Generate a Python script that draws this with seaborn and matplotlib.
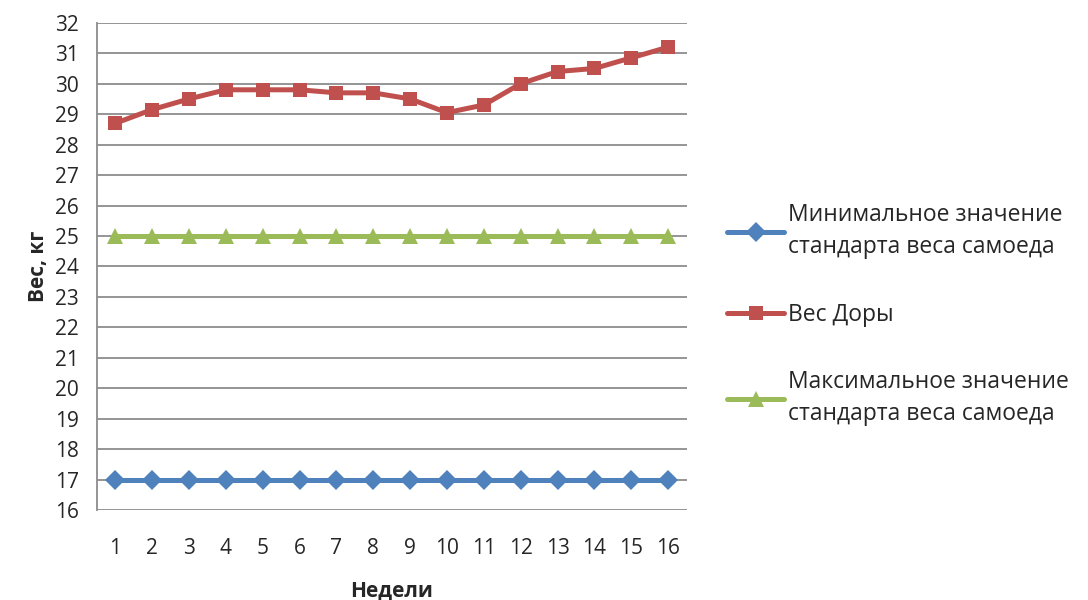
import matplotlib
matplotlib.use('Agg')
import matplotlib.pyplot as plt
import seaborn as sns
import pandas as pd

# Данные графика
weeks = list(range(1, 17))
min_standard = [17] * 16
dora_weight = [28.7, 29.15, 29.5, 29.8, 29.8, 29.8, 29.7, 29.7,
               29.5, 29.05, 29.3, 30.0, 30.4, 30.5, 30.85, 31.2]
max_standard = [25] * 16

series_names = ['Минимальное значение\nстандарта веса самоеда',
                'Вес Доры',
                'Максимальное значение\nстандарта веса самоеда']
series_colors = ['#4F81BD', '#C0504D', '#9BBB59']
series_markers = ['D', 's', '^']
y_ticks = list(range(16, 33))

sns.set_style('white')
plt.rcParams['font.family'] = ['Open Sans', 'DejaVu Sans']

rows = []
for name, vals in zip(series_names, [min_standard, dora_weight, max_standard]):
    for w, v in zip(weeks, vals):
        rows.append({'Неделя': w, 'Вес': v, 'Серия': name})
df = pd.DataFrame(rows)

fig = plt.figure(figsize=(10.88, 6), dpi=100)
ax = fig.add_axes([0.089, 0.15, 0.542, 0.812])

sns.lineplot(data=df, x='Неделя', y='Вес', hue='Серия', style='Серия',
             hue_order=series_names, style_order=series_names,
             palette=dict(zip(series_names, series_colors)),
             markers=dict(zip(series_names, series_markers)),
             dashes=False, linewidth=3.6, markersize=10.5,
             markeredgewidth=0, ax=ax)
# треугольники визуально мельче - чуть увеличим
for line in ax.lines:
    if line.get_marker() == '^':
        line.set_markersize(12)

ax.set_xlim(0.5, 16.5)
ax.set_ylim(16, 32)
ax.set_xticks(weeks)
ax.set_yticks(y_ticks)
ax.yaxis.grid(True, color='#8c8c8c', linewidth=1.3)
ax.set_axisbelow(True)
for s in ['top', 'right', 'bottom']:
    ax.spines[s].set_visible(False)
ax.spines['left'].set_color('#8c8c8c')
ax.spines['left'].set_linewidth(1.3)
ax.tick_params(axis='y', length=8, color='#8c8c8c', width=1.3, labelsize=15, pad=5)
ax.tick_params(axis='x', length=0, labelsize=15, pad=20)

ax.set_xlabel('Недели', fontsize=15, fontweight='bold', labelpad=16)
ax.set_ylabel('Вес, кг', fontsize=15, fontweight='bold', labelpad=4)

handles, labels = ax.get_legend_handles_labels()
ax.legend_.remove()
for h in handles:
    if h.get_marker() == '^':
        h.set_markersize(12)
leg = fig.legend(handles, labels, loc='upper left', bbox_to_anchor=(727 / 1088, 1 - 203 / 600),
                 frameon=False, fontsize=16.5, labelspacing=1.9, handlelength=2.5,
                 handletextpad=0.15, borderpad=0, borderaxespad=0)
for t in leg.get_texts():
    t.set_linespacing(1.45)

fig.savefig('out.png', dpi=100)
